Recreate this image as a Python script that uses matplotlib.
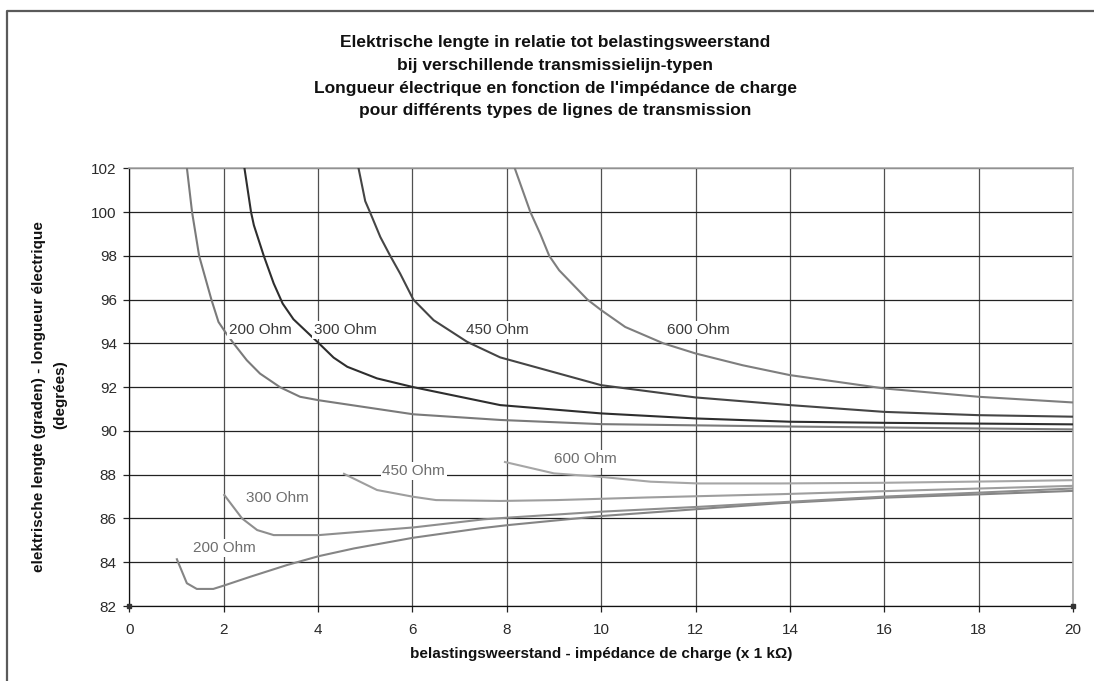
import matplotlib
matplotlib.use("Agg")
import matplotlib.pyplot as plt
from matplotlib.lines import Line2D

plt.rcParams['font.family'] = ['Liberation Sans', 'DejaVu Sans']

# ---- data ----
up200_x = [1.2, 1.33, 1.48, 1.74, 1.89, 2.03, 2.21, 2.49, 2.77, 3.2, 3.62, 4.02, 6.02, 7.87, 10, 14, 20]
up200_y = [102.4, 100, 98, 96, 94.98, 94.53, 94.0, 93.23, 92.62, 91.99, 91.56, 91.4, 90.76, 90.5, 90.31, 90.2, 90.07]
up300_x = [2.42, 2.58, 2.64, 2.85, 3.06, 3.25, 3.48, 4.02, 4.33, 4.62, 5.25, 6.02, 7.86, 10, 12, 14, 16, 20]
up300_y = [102.3, 100, 99.4, 98, 96.74, 95.82, 95.1, 94.0, 93.35, 92.93, 92.4, 92.0, 91.18, 90.8, 90.57, 90.42, 90.37, 90.3]
up450_x = [4.83, 5.0, 5.1, 5.32, 5.53, 5.74, 6.02, 6.45, 7.16, 7.86, 10, 12, 14, 16, 18, 20]
up450_y = [102.3, 100.5, 100, 98.86, 98, 97.19, 96, 95.06, 94.07, 93.36, 92.09, 91.53, 91.18, 90.87, 90.72, 90.65]
up600_x = [8.12, 8.5, 8.71, 8.9, 9.11, 9.71, 10, 10.51, 11.32, 12, 13.0, 14, 16, 18, 20]
up600_y = [102.3, 100, 99.0, 98, 97.34, 96, 95.52, 94.75, 94, 93.54, 93.0, 92.55, 91.94, 91.56, 91.3]

lo200_x = [1.0, 1.22, 1.43, 1.78, 2.0, 2.57, 3.34, 4.02, 4.76, 6.02, 7.44, 8.04, 10, 12.06, 13.8, 16, 18, 20]
lo200_y = [84.18, 83.04, 82.78, 82.78, 82.93, 83.34, 83.87, 84.28, 84.63, 85.12, 85.55, 85.7, 86.11, 86.43, 86.7, 86.95, 87.1, 87.26]
lo300_x = [2.0, 2.39, 2.71, 3.06, 4.02, 6.02, 7.51, 8.04, 10, 12.06, 13.8, 16, 18, 20]
lo300_y = [87.11, 86.0, 85.47, 85.24, 85.24, 85.59, 85.96, 86.04, 86.31, 86.53, 86.74, 87.0, 87.18, 87.37]
lo450_x = [4.53, 5.25, 6.02, 6.5, 7.87, 9.06, 10.98, 13.8, 16.03, 18.05, 20]
lo450_y = [88.06, 87.3, 86.99, 86.84, 86.8, 86.84, 86.96, 87.11, 87.25, 87.37, 87.49]
lo600_x = [7.94, 9.0, 10, 11.05, 12.06, 13.8, 16, 18.5, 20]
lo600_y = [88.59, 88.06, 87.9, 87.68, 87.6, 87.6, 87.63, 87.7, 87.75]

series_names = ["200 Ohm", "300 Ohm", "450 Ohm", "600 Ohm"]
x_ticks = list(range(0, 21, 2))
y_ticks = list(range(82, 103, 2))

title_lines = [
    "Elektrische lengte in relatie tot belastingsweerstand",
    "bij verschillende transmissielijn-typen",
    "Longueur électrique en fonction de l'impédance de charge",
    "pour différents types de lignes de transmission",
]
xlabel = "belastingsweerstand - impédance de charge (x 1 kΩ)"
ylabel1 = "elektrische lengte (graden) - longueur électrique"
ylabel2 = "(degrées)"

# label positions (x, y) in data units
up_label_pos = [(2.78, 94.6), (4.58, 94.6), (7.81, 94.6), (12.06, 94.6)]
lo_label_pos = [(2.01, 84.66), (3.13, 86.92), (6.03, 88.16), (9.67, 88.71)]

W, H = 1094, 681
fig = plt.figure(figsize=(W / 100, H / 100), dpi=100)
fig.patch.set_facecolor('white')

L, R, T, B = 129.3, 1073, 168.3, 606
ax = fig.add_axes([L / W, 1 - B / H, (R - L) / W, (B - T) / H])
ax.set_xlim(0, 20)
ax.set_ylim(82, 102)
ax.set_xticks(x_ticks)
ax.set_yticks(y_ticks)
ax.set_axisbelow(True)
ax.grid(True, axis='y', color='#222222', linewidth=0.9)
ax.grid(True, axis='x', color='#505050', linewidth=0.9)
ax.tick_params(axis='both', direction='out', length=4, width=0.9, color='#222222',
               labelsize=11, labelcolor='#2a2a2a')
ax.tick_params(axis='x', pad=8)
ax.tick_params(axis='y', pad=5)
for s in ['left', 'bottom']:
    ax.spines[s].set_color('#111111')
    ax.spines[s].set_linewidth(0.9)
for s in ['top', 'right']:
    ax.spines[s].set_color('#a8a8a8')
    ax.spines[s].set_linewidth(1.2)

up_series = [(up200_x, up200_y), (up300_x, up300_y), (up450_x, up450_y), (up600_x, up600_y)]
lo_series = [(lo200_x, lo200_y), (lo300_x, lo300_y), (lo450_x, lo450_y), (lo600_x, lo600_y)]
up_colors = ['#7a7a7a', '#2e2e2e', '#454545', '#7e7e7e']
lo_colors = ['#858585', '#8e8e8e', '#9e9e9e', '#a6a6a6']

for (xs, ys), c in zip(up_series, up_colors):
    ax.plot(xs, ys, color=c, linewidth=1.5, solid_capstyle='butt', solid_joinstyle='round', zorder=3)
for (xs, ys), c in zip(lo_series, lo_colors):
    ax.plot(xs, ys, color=c, linewidth=1.5, solid_capstyle='butt', solid_joinstyle='round', zorder=3)

# end markers of the hidden axis series
ax.plot([0, 20], [82, 82], linestyle='none', marker='s', markersize=3.5,
        color='#333333', clip_on=False, zorder=4)

for name, (px, py) in zip(series_names, up_label_pos):
    ax.text(px, py, name, ha='center', va='center', fontsize=11, color='#3a3a3a', zorder=5,
            bbox=dict(boxstyle='square,pad=0.12', facecolor='white', edgecolor='none'))
for name, (px, py) in zip(series_names, lo_label_pos):
    ax.text(px, py, name, ha='center', va='center', fontsize=11, color='#6e6e6e', zorder=5,
            bbox=dict(boxstyle='square,pad=0.12', facecolor='white', edgecolor='none'))

# titles
title_y = [43, 65.5, 88, 110.5]
for line, ty in zip(title_lines, title_y):
    fig.text(555 / W, 1 - ty / H, line, ha='center', va='center', fontsize=12.5,
             fontweight='bold', color='#111111')

fig.text(601 / W, 1 - 654 / H, xlabel, ha='center', va='center', fontsize=11,
         fontweight='bold', color='#111111')
fig.text(39 / W, 1 - 397 / H, ylabel1, ha='center', va='center', rotation=90,
         fontsize=11, fontweight='bold', color='#111111')
fig.text(60 / W, 1 - 395 / H, ylabel2, ha='center', va='center', rotation=90,
         fontsize=11, fontweight='bold', color='#111111')

# outer chart frame (left and top edges visible)
fx = 7 / W
fy = 1 - 10.5 / H
fig.add_artist(Line2D([fx, fx, 1.0], [0.0, fy, fy], transform=fig.transFigure,
                      color='#5a5a5a', linewidth=1.6))

fig.savefig('out.png', dpi=100)
